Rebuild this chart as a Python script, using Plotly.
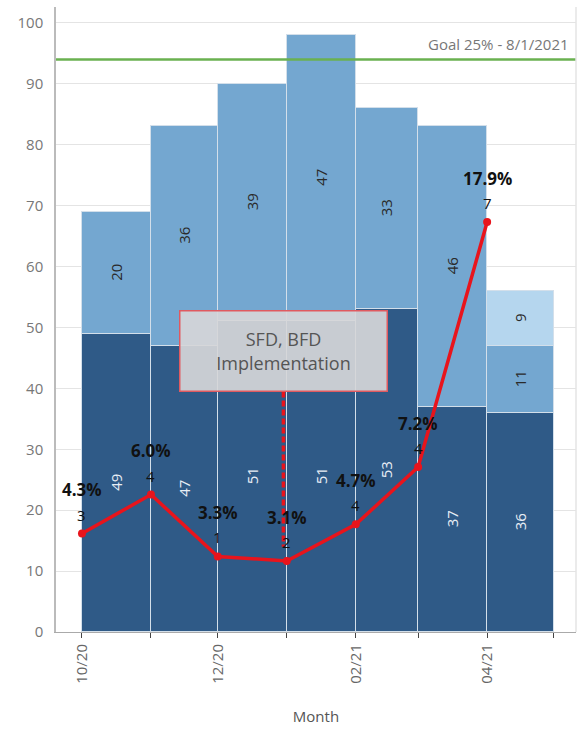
import plotly.graph_objects as go
import pandas as pd

months = ["2020-10-01", "2020-11-01", "2020-12-01", "2021-01-01", "2021-02-01", "2021-03-01", "2021-04-01"]
dark_vals = [49, 47, 51, 51, 53, 37, 36]
mid_vals = [20, 36, 39, 47, 33, 46, 11]
light_vals = [None, None, None, None, None, None, 9]
rate_pct = [4.3, 6.0, 3.3, 3.1, 4.7, 7.2, 17.9]
rate_count = [3, 4, 1, 2, 4, 4, 7]
tick_dates = ["2020-10-01", "2020-11-01", "2020-12-01", "2021-01-01", "2021-02-01",
              "2021-03-01", "2021-04-01", "2021-05-01"]
tick_labels = ["10/20", "", "12/20", "", "02/21", "", "04/21", ""]
goal_pct = 25
goal_label = "Goal 25% - 8/1/2021"
note_text = "SFD, BFD<br>Implementation"

FONT = "Open Sans"
DARK = "#2f5a87"
MID = "#74a7d0"
LIGHT = "#b5d6ee"
RED = "#e8141c"

starts = pd.to_datetime(months)
ends = starts + pd.offsets.MonthBegin(1)
widths = [(e - s).total_seconds() * 1000 for s, e in zip(starts, ends)]

fig = go.Figure()

def bar(vals, color, tcolor):
    return go.Bar(
        x=months, y=vals, width=widths, offset=0,
        marker=dict(color=color, line=dict(color="#d3dfea", width=1.5)),
        text=[("" if v is None else str(v)) for v in vals],
        textposition="inside", insidetextanchor="middle", textangle=-90,
        textfont=dict(family=FONT, size=15, color=tcolor),
        constraintext="none", hoverinfo="skip", showlegend=False,
    )

fig.add_trace(bar(dark_vals, DARK, "#e8eef5"))
fig.add_trace(bar(mid_vals, MID, "#2a2a2a"))
fig.add_trace(bar(light_vals, LIGHT, "#2a2a2a"))

fig.add_trace(go.Scatter(
    x=months, y=rate_pct, yaxis="y2", mode="lines+markers",
    line=dict(color=RED, width=3.5), marker=dict(color=RED, size=8),
    hoverinfo="skip", showlegend=False,
))

Y_TOP = 102.6
FACTOR = 3.76

fig.update_layout(
    width=581, height=729,
    margin=dict(l=56, r=5, t=7, b=97),
    barmode="stack", bargap=0,
    plot_bgcolor="white", paper_bgcolor="white",
    font=dict(family=FONT, color="#666"),
    xaxis=dict(
        type="date", range=["2020-09-19 08:00", "2021-05-10 22:00"],
        tickvals=tick_dates, ticktext=tick_labels, tickangle=-90,
        tickfont=dict(size=15, color="#666"),
        ticks="outside", ticklen=5, tickcolor="#444",
        showline=True, linecolor="#aaa", linewidth=1,
        showgrid=False, zeroline=False,
        title=dict(text="Month", font=dict(size=15, color="#555"), standoff=28),
    ),
    yaxis=dict(
        range=[0, Y_TOP], tickvals=list(range(0, 101, 10)),
        tickfont=dict(size=15, color="#777"),
        showgrid=True, gridcolor="#e4e4e4", gridwidth=1,
        showline=True, linecolor="#bbb", linewidth=1.5,
        zeroline=False, ticks="", ticklabelstandoff=8,
    ),
    yaxis2=dict(
        range=[0, Y_TOP / FACTOR], overlaying="y", visible=False,
    ),
)

# point labels
for m, p, c in zip(months, rate_pct, rate_count):
    fig.add_annotation(x=m, y=p, yref="y2", text=f"<b>{p:.1f}%</b>", showarrow=False,
                       yshift=44, font=dict(family=FONT, size=17, color="#111"))
    fig.add_annotation(x=m, y=p, yref="y2", text=str(c), showarrow=False,
                       yshift=19, font=dict(family=FONT, size=15, color="#111"))

# goal line
fig.add_shape(type="line", xref="paper", x0=0, x1=1, yref="y2", y0=goal_pct, y1=goal_pct,
              line=dict(color="#6ab150", width=2.5), layer="above")
fig.add_annotation(xref="paper", x=0.99, yref="y2", y=goal_pct, xanchor="right", yanchor="bottom",
                   yshift=3, text=goal_label, showarrow=False,
                   font=dict(family=FONT, size=15, color="#777"))

# right border
fig.add_shape(type="line", xref="paper", x0=1, x1=1, yref="paper", y0=0, y1=1,
              line=dict(color="#e4e4e4", width=1.5))

# implementation marker
fig.add_shape(type="line", x0="2020-12-30 12:00", x1="2020-12-30 12:00", yref="y",
              y0=39.5, y1=14, line=dict(color=RED, width=3.5, dash="6px,3px"), layer="above")
fig.add_annotation(x="2020-12-30 12:00", y=46.2, yref="y", text=note_text, showarrow=False,
                   font=dict(family=FONT, size=18, color="#555"),
                   bgcolor="rgba(214,214,216,0.92)", bordercolor="#e05a60", borderwidth=1.5,
                   width=204, height=77, borderpad=1)

fig.write_html("out.html")
